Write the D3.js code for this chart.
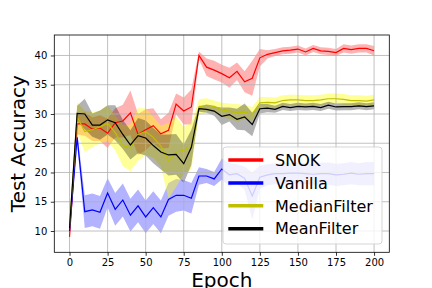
<!DOCTYPE html>
<html>
<head>
<meta charset="utf-8">
<script src="https://cdn.jsdelivr.net/npm/d3@7"></script>
<style>
body{margin:0;background:#fff;}
svg{display:block;font-family:"DejaVu Sans",sans-serif;}
</style>
</head>
<body>
<div id="chart"></div>
<script>
var epochs=[0,5,10,15,20,25,30,35,40,45,50,55,60,65,70,75,80,85,90,95,100,105,110,115,120,125,130,135,140,145,150,155,160,165,170,175,180,185,190,195,200];
var snokMean=[9.0,28.3,28.3,27.4,27.6,26.7,28.5,28.8,30.2,26.5,27.3,28.0,26.6,27.2,31.7,30.5,31.2,40.0,38.0,37.5,36.9,36.2,37.3,35.5,36.1,39.6,40.2,40.5,40.8,40.9,41.1,40.6,41.2,40.8,40.7,40.5,41.2,41.0,41.2,41.2,40.8];
var snokStd=[0.6,1.8,2.0,2.0,2.2,2.5,2.5,2.8,3.8,3.5,3.5,3.0,2.5,3.0,1.8,2.3,3.0,0.7,1.5,1.6,1.5,1.7,1.5,1.8,3.0,1.5,0.7,0.6,0.6,0.6,0.6,0.6,0.6,0.6,0.6,0.6,0.7,0.7,0.7,0.7,0.8];
var vanillaMean=[10.0,26.0,13.3,13.6,13.2,16.5,13.7,15.3,12.7,14.3,12.4,14.0,12.4,15.4,16.1,16.1,15.6,19.4,19.4,18.9,20.6,19.6,19.8,19.0,16.0,19.2,19.6,19.8,19.8,19.9,19.9,19.8,19.7,19.8,19.8,19.6,19.7,19.9,19.7,19.8,19.8];
var vanillaStd=[0.5,1.0,2.8,2.8,2.8,2.5,2.8,2.8,2.8,2.8,2.8,2.8,2.8,2.8,2.8,2.6,2.6,1.5,1.2,1.2,1.8,2.0,1.6,2.0,4.0,2.0,1.8,1.8,1.8,1.8,1.8,1.8,1.8,1.9,1.9,1.9,1.9,1.9,1.9,2.0,2.0];
var medianMean=[10.5,29.5,27.0,27.3,27.8,28.4,26.8,24.6,24.2,26.5,27.0,26.0,24.5,22.0,23.5,23.8,24.5,31.2,31.5,31.3,30.7,30.5,30.2,30.3,30.0,31.9,32.0,31.9,32.3,32.4,32.4,32.3,32.3,32.4,32.6,32.6,32.5,32.3,32.3,32.2,32.4];
var medianStd=[0.8,2.5,3.5,3.0,2.8,3.0,3.0,3.5,4.0,4.5,4.0,3.5,3.5,6.5,6.0,4.0,4.0,1.3,1.2,1.0,1.2,1.3,1.5,1.2,1.2,1.0,0.9,0.9,0.9,0.9,0.9,0.9,0.9,0.9,0.9,0.9,0.9,0.9,0.9,0.9,0.9];
var meanMean=[10.5,30.1,30.0,28.1,28.1,29.0,28.5,26.5,24.7,26.3,25.9,24.6,23.5,23.0,23.1,21.5,24.3,30.9,30.8,30.5,29.6,29.9,29.1,29.5,28.2,30.9,31.0,30.8,31.3,31.1,31.3,31.2,31.3,31.1,31.5,31.2,31.25,31.25,31.4,31.25,31.4];
var meanStd=[0.5,1.3,2.6,2.0,2.5,2.5,3.0,2.5,2.5,3.0,3.0,3.0,3.0,3.5,3.5,3.3,3.0,0.5,0.6,0.8,1.5,1.2,1.8,2.3,2.0,0.8,0.7,0.6,0.6,0.6,0.6,0.6,0.6,0.6,0.6,0.6,0.6,0.6,0.6,0.6,0.6];
var seriesNames=["SNOK","Vanilla","MedianFilter","MeanFilter"];
var xTicks=[0,25,50,75,100,125,150,175,200];
var yTicks=[10,15,20,25,30,35,40];

var series=[
	{name:seriesNames[0],mean:snokMean,std:snokStd,line:"#ff0000",fill:"#ff0000",op:0.3},
	{name:seriesNames[1],mean:vanillaMean,std:vanillaStd,line:"#0000ff",fill:"#0000ff",op:0.3},
	{name:seriesNames[2],mean:medianMean,std:medianStd,line:"#bfbf00",fill:"#ffff00",op:0.4},
	{name:seriesNames[3],mean:meanMean,std:meanStd,line:"#000000",fill:"#000000",op:0.3}
];

var W=432,H=288;
var pLeft=54.3,pRight=389.3,pTop=35,pBottom=252.3;

var svg=d3.select("#chart").append("svg").attr("width",W).attr("height",H);

var x=d3.scaleLinear().domain([-10,210]).range([pLeft,pRight]);
var y=d3.scaleLinear().domain([6.36,43.5]).range([pBottom,pTop]);

svg.append("defs").append("clipPath").attr("id","plotclip")
	.append("rect").attr("x",pLeft).attr("y",pTop).attr("width",pRight-pLeft).attr("height",pBottom-pTop);

var plot=svg.append("g").attr("clip-path","url(#plotclip)");

// bands
series.forEach(function(s){
	var area=d3.area()
		.x(function(d,i){return x(epochs[i]);})
		.y0(function(d,i){return y(s.mean[i]-s.std[i]);})
		.y1(function(d,i){return y(s.mean[i]+s.std[i]);});
	plot.append("path").datum(s.mean)
		.attr("d",area)
		.attr("fill",s.fill)
		.attr("fill-opacity",s.op)
		.attr("stroke","none");
});

// grid
var grid=svg.append("g");
xTicks.forEach(function(t){
	grid.append("line").attr("x1",x(t)).attr("x2",x(t)).attr("y1",pTop).attr("y2",pBottom)
		.attr("stroke","#b0b0b0").attr("stroke-width",0.8);
});
yTicks.forEach(function(t){
	grid.append("line").attr("x1",pLeft).attr("x2",pRight).attr("y1",y(t)).attr("y2",y(t))
		.attr("stroke","#b0b0b0").attr("stroke-width",0.8);
});

// lines
var lines=svg.append("g").attr("clip-path","url(#plotclip)");
series.forEach(function(s){
	var line=d3.line()
		.x(function(d,i){return x(epochs[i]);})
		.y(function(d){return y(d);});
	lines.append("path").datum(s.mean)
		.attr("d",line)
		.attr("fill","none")
		.attr("stroke",s.line)
		.attr("stroke-width",1.2);
});

// axes
var xAxisG=svg.append("g").attr("transform","translate(0,"+pBottom+")")
	.call(d3.axisBottom(x).tickValues(xTicks).tickSize(3.5).tickPadding(3.5));
var yAxisG=svg.append("g").attr("transform","translate("+pLeft+",0)")
	.call(d3.axisLeft(y).tickValues(yTicks).tickSize(3.5).tickPadding(3.5));
[xAxisG,yAxisG].forEach(function(g){
	g.select(".domain").remove();
	g.selectAll("text").attr("font-size",10).attr("font-family","DejaVu Sans").attr("fill","#000");
	g.selectAll("line").attr("stroke","#000").attr("stroke-width",0.8);
});

// frame
svg.append("rect").attr("x",pLeft).attr("y",pTop).attr("width",pRight-pLeft).attr("height",pBottom-pTop)
	.attr("fill","none").attr("stroke","#000").attr("stroke-width",0.8);

// labels
svg.append("text").attr("x",(pLeft+pRight)/2).attr("y",287).attr("text-anchor","middle")
	.attr("font-size",20).text("Epoch");
svg.append("text").attr("transform","translate(24.6,"+((pTop+pBottom)/2)+") rotate(-90)")
	.attr("text-anchor","middle").attr("font-size",20).text("Test Accuracy");

// legend
var leg=svg.append("g");
leg.append("rect").attr("x",223).attr("y",147).attr("width",159).attr("height",97).attr("rx",3)
	.attr("fill","#fff").attr("fill-opacity",0.8).attr("stroke","#cccccc").attr("stroke-opacity",0.8);
series.forEach(function(s,i){
	var cy=160+i*22.9;
	leg.append("line").attr("x1",228.3).attr("x2",263.3).attr("y1",cy).attr("y2",cy)
		.attr("stroke",s.line).attr("stroke-width",3.5);
	leg.append("text").attr("x",275).attr("y",cy).attr("dy","0.36em")
		.attr("font-size",16).text(s.name);
});
</script>
</body>
</html>
